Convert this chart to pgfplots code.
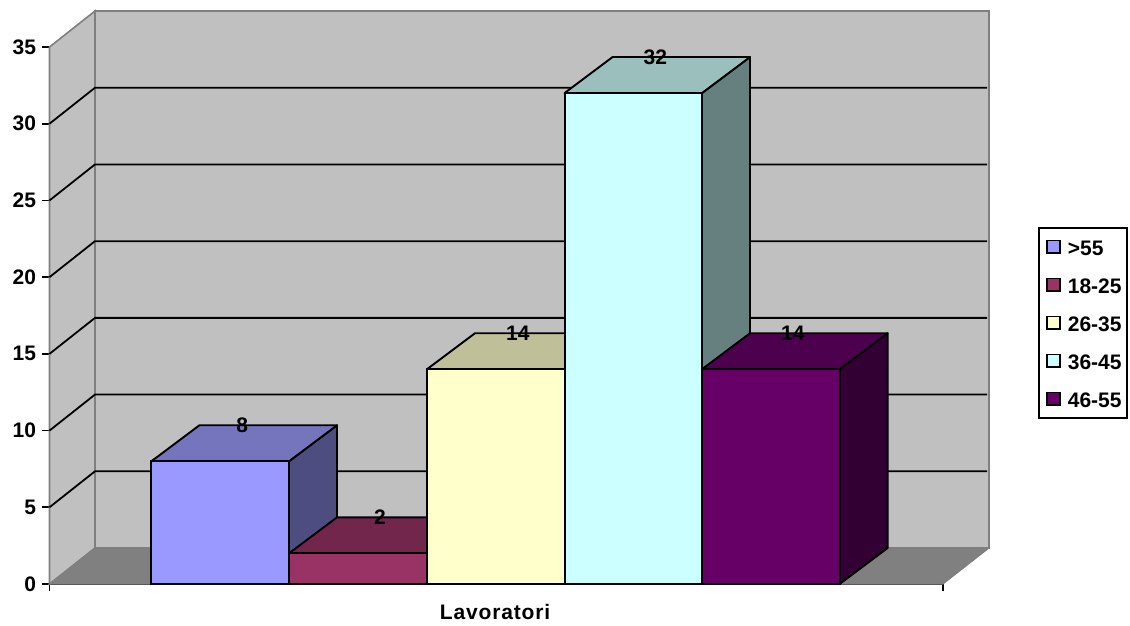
\documentclass[border=0pt]{standalone}
\usepackage{pgfplots}
\pgfplotsset{compat=1.18}
\usepackage{fontspec}
\setmainfont{Liberation Sans}

% Depth of the box in axis units: 48 along x, 2.346 along y.
\definecolor{wall}{HTML}{C0C0C0}
\definecolor{floorc}{HTML}{808080}
\definecolor{edgec}{HTML}{7F7F7F}
\definecolor{aF}{HTML}{9999FF}\definecolor{aT}{HTML}{7575BD}\definecolor{aS}{HTML}{4D4D80}
\definecolor{bF}{HTML}{993366}\definecolor{bT}{HTML}{72264C}\definecolor{bS}{HTML}{4D1A33}
\definecolor{cF}{HTML}{FFFFCC}\definecolor{cT}{HTML}{BFBF99}\definecolor{cS}{HTML}{808066}
\definecolor{dF}{HTML}{CCFFFF}\definecolor{dT}{HTML}{9ABFBD}\definecolor{dS}{HTML}{668080}
\definecolor{eF}{HTML}{660066}\definecolor{eT}{HTML}{4D004D}\definecolor{eS}{HTML}{330033}

\newcommand{\chartfont}{\fontsize{21}{21}\bfseries\selectfont}

\pgfplotsset{
  face/.style={forget plot, draw=black, line width=1.9pt, line join=round},
  gridline/.style={forget plot, black, line width=1.8pt},
  front/.style={forget plot, ybar, bar width=137.6pt, bar shift=0pt, draw=black,
    line width=1.9pt, nodes near coords,
    nodes near coords style={anchor=center, xshift=22pt, yshift=36pt, font=\chartfont, text=black,
      /pgf/number format/assume math mode=true}},
}

\begin{document}
\begin{tikzpicture}
\path[use as bounding box] (-49.5pt,-41pt) rectangle (1080.5pt,584pt);
\begin{axis}[
  scale only axis, width=893.5pt, height=537pt,
  at={(0pt,0pt)}, anchor=south west,
  xmin=49.5, xmax=943, ymin=0, ymax=35,
  clip=false,
  axis x line=bottom, axis y line=left,
  axis line style={-, black, line width=1.9pt},
  xtick={49.5,943}, xticklabels={},
  ytick={0,5,10,15,20,25,30,35},
  tick style={black, line width=1.8pt},
  tick align=outside, major tick length=7pt,
  /pgf/number format/assume math mode=true,
  tick label style={font=\chartfont},
  yticklabel style={xshift=-3pt},
  xlabel={\addfontfeatures{LetterSpace=4}Lavoratori},
  xlabel style={font=\chartfont, at={(axis cs:495,0)}, anchor=center, yshift=-28pt},
  legend style={at={(axis cs:1038,23.27)}, anchor=north west, draw=black, line width=1.9pt,
    font=\chartfont, inner xsep=1pt, inner ysep=8pt,
    row sep=15.5pt, legend cell align=left,
    nodes={inner xsep=4pt, inner ysep=1pt, text height=19pt}},
  legend image code/.code={\path (0pt,0pt); \draw[#1, line width=1.4pt] (6pt,-6pt) rectangle (19pt,6.5pt); \path (22pt,0pt);},
]
% Side wall, back wall and floor
\addplot[forget plot, fill=wall, draw=edgec, line width=1.6pt] coordinates {(49.5,0) (95,2.346) (95,37.346) (49.5,35)} --cycle;
\addplot[forget plot, fill=wall, draw=edgec, line width=2pt] coordinates {(95,2.346) (989,2.346) (989,37.346) (95,37.346)} --cycle;
\addplot[forget plot, fill=floorc, draw=edgec, line width=1pt] coordinates {(49.5,0) (95,2.346) (989,2.346) (943,0)} --cycle;

% Gridlines on the two walls
\addplot[gridline] coordinates {(49.5,5) (95,7.346) (987,7.346)};
\addplot[gridline] coordinates {(49.5,10) (95,12.346) (987,12.346)};
\addplot[gridline] coordinates {(49.5,15) (95,17.346) (987,17.346)};
\addplot[gridline] coordinates {(49.5,20) (95,22.346) (987,22.346)};
\addplot[gridline] coordinates {(49.5,25) (95,27.346) (987,27.346)};
\addplot[gridline] coordinates {(49.5,30) (95,32.346) (987,32.346)};

% >55
\addplot[face, fill=aS] coordinates {(289,0) (337,2.346) (337,10.346) (289,8)} --cycle;
\addplot[face, fill=aT] coordinates {(151.4,8) (199.4,10.346) (337,10.346) (289,8)} --cycle;
\addplot[front, fill=aF] coordinates {(220.2,8)};
% 18-25
\addplot[face, fill=bS] coordinates {(427,0) (475,2.346) (475,4.346) (427,2)} --cycle;
\addplot[face, fill=bT] coordinates {(289,2) (337,4.346) (475,4.346) (427,2)} --cycle;
\addplot[front, fill=bF] coordinates {(358,2)};
% 26-35
\addplot[face, fill=cS] coordinates {(564.6,0) (612.6,2.346) (612.6,16.346) (564.6,14)} --cycle;
\addplot[face, fill=cT] coordinates {(427,14) (475,16.346) (612.6,16.346) (564.6,14)} --cycle;
\addplot[front, fill=cF] coordinates {(495.8,14)};
% 36-45
\addplot[face, fill=dS] coordinates {(702,0) (750,2.346) (750,34.346) (702,32)} --cycle;
\addplot[face, fill=dT] coordinates {(564.6,32) (612.6,34.346) (750,34.346) (702,32)} --cycle;
\addplot[front, fill=dF] coordinates {(633.4,32)};
% 46-55
\addplot[face, fill=eS] coordinates {(839.6,0) (887.6,2.346) (887.6,16.346) (839.6,14)} --cycle;
\addplot[face, fill=eT] coordinates {(702,14) (750,16.346) (887.6,16.346) (839.6,14)} --cycle;
\addplot[front, fill=eF] coordinates {(770.8,14)};

% Legend swatches
\addlegendimage{draw=black, fill=aF}\addlegendentry{>55}
\addlegendimage{draw=black, fill=bF}\addlegendentry{18-25}
\addlegendimage{draw=black, fill=cF}\addlegendentry{26-35}
\addlegendimage{draw=black, fill=dF}\addlegendentry{36-45}
\addlegendimage{draw=black, fill=eF}\addlegendentry{46-55}
\end{axis}
\end{tikzpicture}
\end{document}
